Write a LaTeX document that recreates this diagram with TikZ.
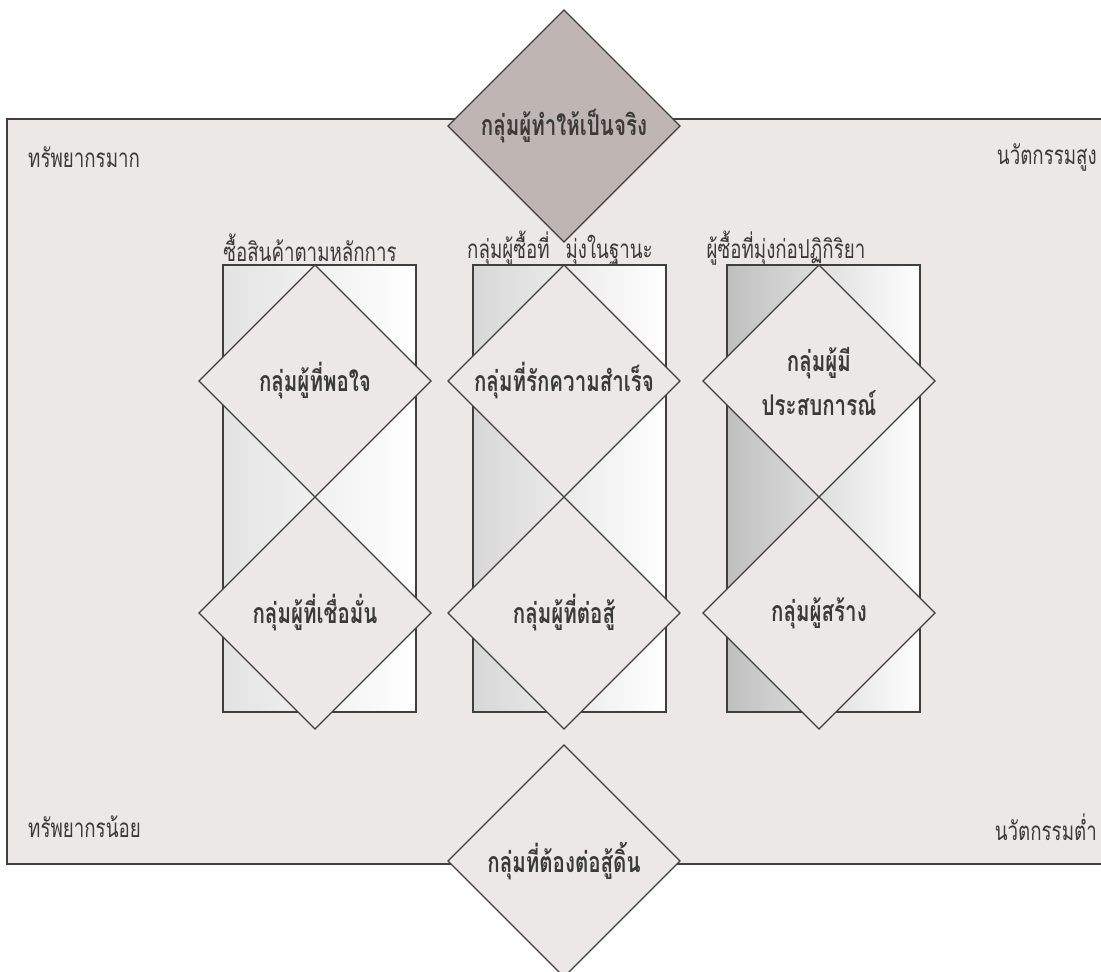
\documentclass[tikz,border=0pt]{standalone}
\usepackage{fontspec}
\newfontfamily\thaifont[Script=Thai,FakeStretch=0.72]{Loma}
\usetikzlibrary{shapes.geometric, positioning}
\definecolor{fieldfill}{HTML}{ECE8E7}
\definecolor{topfill}{HTML}{BFB5B2}
\definecolor{edgegray}{HTML}{3F3F3F}
\definecolor{inkgray}{HTML}{3A3A3A}

\begin{document}
\begin{tikzpicture}[x=1pt, y=-1pt,
  quad/.style={diamond, aspect=1, draw=edgegray, line width=1.3pt, fill=fieldfill,
    minimum width=232pt, minimum height=232pt, inner sep=0pt, outer sep=0pt,
    align=center, text=inkgray, font=\thaifont\bfseries\fontsize{28.5}{44}\selectfont},
  colbox/.style={draw=edgegray, line width=1.8pt, right color=white},
  tag/.style={inner sep=0pt, text=inkgray, font=\thaifont\fontsize{26}{30}\selectfont}
]
\useasboundingbox (0,0) rectangle (1101,972);

% field
\draw[draw=edgegray, line width=1.8pt, fill=fieldfill] (7,119) rectangle (1106,864);
\node[tag, anchor=west] (resHigh) at (28,157) {ทรัพยากรมาก};
\node[tag, anchor=east] (innovHigh) at (1097,157) {นวัตกรรมสูง};
\node[tag, anchor=west] (resLow) at (28,827) {ทรัพยากรน้อย};
\node[tag, anchor=east] (innovLow) at (1097,827) {นวัตกรรมต่ำ};

\node[quad, fill=topfill] (actualizer) at (564,126) {กลุ่มผู้ทำให้เป็นจริง};

% columns
\node[tag] (headPrinciple) at (310,248) {ซื้อสินค้าตามหลักการ};
\node[tag] (headStatus) at (560,248) {กลุ่มผู้ซื้อที่\hspace{16pt}มุ่งในฐานะ};
\node[tag] (headAction) at (786,248) {ผู้ซื้อที่มุ่งก่อปฏิกิริยา};

\draw[colbox, left color=gray!22] (223,265) rectangle (416,712);
\draw[colbox, left color=gray!31] (473,265) rectangle (666,712);
\draw[colbox, left color=gray!50] (727,265) rectangle (920,712);

\node[quad] (fulfilled) at (315,381) {กลุ่มผู้ที่พอใจ};
\node[quad, anchor=north] (believer) at (fulfilled.south) {กลุ่มผู้ที่เชื่อมั่น};
\node[quad] (achiever) at (564,381) {กลุ่มที่รักความสำเร็จ};
\node[quad, anchor=north] (striver) at (achiever.south) {กลุ่มผู้ที่ต่อสู้};
\node[quad] (experiencer) at (819,381) {กลุ่มผู้มี\\ประสบการณ์};
\node[quad, anchor=north] (maker) at (experiencer.south) {กลุ่มผู้สร้าง};

\node[quad] (struggler) at (564,861) {กลุ่มที่ต้องต่อสู้ดิ้น};
\end{tikzpicture}
\end{document}
